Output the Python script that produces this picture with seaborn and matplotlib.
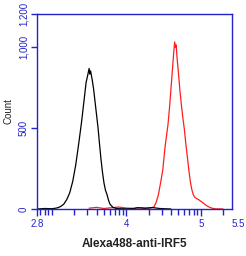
import numpy as np
import pandas as pd
import matplotlib
matplotlib.use("Agg")
import matplotlib.pyplot as plt
import matplotlib.transforms as mtransforms
from matplotlib.ticker import FixedLocator
import seaborn as sns

# log10 fluorescence intensity and event counts
black_x = [2.80, 2.90, 3.00, 3.04, 3.08, 3.12, 3.16, 3.20, 3.24, 3.28, 3.32, 3.36, 3.40, 3.42,
           3.44, 3.46, 3.48, 3.50, 3.51, 3.52, 3.54, 3.56, 3.58, 3.60, 3.62, 3.64, 3.66,
           3.68, 3.70, 3.72, 3.74, 3.76, 3.78, 3.82, 3.86, 3.90, 4.00, 4.10, 4.15, 4.25, 4.35, 4.45, 4.60]
black_y = [0, 3, 2, 4, 8, 16, 30, 58, 100, 170, 270, 400, 540, 620,
           700, 780, 820, 865, 830, 850, 800, 740, 660, 580, 500, 400, 305,
           225, 160, 115, 90, 55, 30, 10, 4, 2, 1, 3, 8, 4, 9, 3, 0]

red_x = [3.50, 3.60, 3.70, 3.80, 3.90, 4.00, 4.10, 4.20, 4.30, 4.34, 4.37, 4.40, 4.43, 4.46, 4.49,
         4.52, 4.54, 4.56, 4.58, 4.60, 4.62, 4.64, 4.65, 4.66, 4.67, 4.68, 4.70, 4.72,
         4.74, 4.76, 4.78, 4.80, 4.82, 4.84, 4.86, 4.88, 4.90, 4.92, 4.94, 4.96, 4.98,
         5.00, 5.04, 5.08, 5.12, 5.16, 5.20, 5.30]
red_y = [5, 10, 3, 8, 12, 6, 4, 8, 5, 8, 12, 40, 86, 160, 240,
         380, 450, 520, 620, 740, 860, 980, 1028, 995, 1010, 940, 840, 730,
         640, 560, 490, 400, 320, 240, 170, 120, 88, 72, 66, 60, 55,
         48, 35, 20, 10, 4, 1, 0]

tick_vals = [2.8, 4, 5]
tick_text = ["2.8", "4", "5"]
extra_tick_val = 5.5
extra_tick_text = "5.5"
y_ticks = [0, 500, 1000, 1200]
y_tick_text = ["0", "500", "1,000", "1,200"]

blue = "#2323c8"
sns.set_style("white")
plt.rcParams["font.family"] = ["Liberation Sans", "DejaVu Sans"]

fig = plt.figure(figsize=(2.46, 2.56), dpi=100)
ax = fig.add_axes([37/246, 1-209/256, (232-37)/246, (209-14)/256])

df_b = pd.DataFrame({"x": black_x, "y": black_y})
df_r = pd.DataFrame({"x": red_x, "y": red_y})
sns.lineplot(data=df_r, x="x", y="y", ax=ax, color="#ff1e1e", lw=0.9, estimator=None)
sns.lineplot(data=df_b, x="x", y="y", ax=ax, color="black", lw=0.9, estimator=None)

ax.set_xlim(2.8, 5.42)
ax.set_ylim(0, 1200)

for s in ax.spines.values():
    s.set_color(blue)
    s.set_linewidth(1.0)

ax.xaxis.set_major_locator(FixedLocator(tick_vals))
ax.set_xticklabels(tick_text)
minor = [float(np.log10(k * 10.0**n)) for n in range(2, 6) for k in range(1, 10)
         if 2.82 < np.log10(k * 10.0**n) < 5.42]
ax.xaxis.set_minor_locator(FixedLocator(minor))
ax.set_yticks(y_ticks)
ax.set_yticklabels(y_tick_text, rotation=90, va="center")
ax.tick_params(axis="both", which="both", direction="out", colors=blue,
               labelcolor=blue, labelsize=7, width=1.0, pad=2)
ax.tick_params(axis="x", which="major", bottom=True, length=5)
ax.tick_params(axis="x", which="minor", bottom=True, length=4)
ax.tick_params(axis="y", which="major", left=True, length=4)
ax.xaxis.set_label_coords(0.5, -0.15)
trans = mtransforms.offset_copy(ax.get_xaxis_transform(), fig=fig, x=0, y=-7.0, units="points")
ax.text(extra_tick_val, 0, extra_tick_text, transform=trans,
        color=blue, fontsize=7, ha="center", va="top", clip_on=False)

ax.set_xlabel("Alexa488-anti-IRF5", fontsize=8.5, fontweight="bold", color="#222222")
ax.set_ylabel("Count", fontsize=7, color="#222222", labelpad=4)

fig.savefig("out.png", dpi=100)
